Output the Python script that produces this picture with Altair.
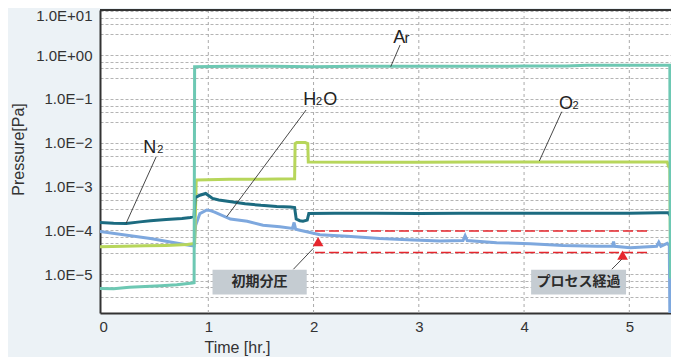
import altair as alt
import pandas as pd

# ---------------- data ----------------
# Ar
ar_t = [-0.03, 0.10, 0.25, 0.40, 0.55, 0.70, 0.85, 0.865, 0.870, 1.2, 1.6, 2.0, 2.4, 2.8, 3.2, 3.6, 4.0, 4.4, 4.6, 4.8, 5.2, 5.385, 5.39, 5.49]
ar_v = [4.7e-6, 4.6e-6, 5.0e-6, 5.2e-6, 5.4e-6, 5.7e-6, 6.2e-6, 6.3e-6, 0.54, 0.55, 0.55, 0.54, 0.55, 0.55, 0.55, 0.55, 0.56, 0.56, 0.58, 0.58, 0.58, 0.58, 8.5e-6, 8.5e-6]
# O2
o2_t = [-0.03, 0.2, 0.4, 0.6, 0.8, 0.87, 0.885, 0.89, 1.2, 1.5, 1.82, 1.825, 1.84, 1.92, 1.945, 1.95, 2.5, 3.0, 3.5, 4.0, 4.5, 5.0, 5.36, 5.375, 5.385, 5.39, 5.49]
o2_v = [4.2e-5, 4.3e-5, 4.4e-5, 4.5e-5, 4.7e-5, 5.0e-5, 1.3e-3, 1.4e-3, 1.45e-3, 1.45e-3, 1.5e-3, 9.5e-3, 1.0e-2, 1.0e-2, 9.5e-3, 3.6e-3, 3.55e-3, 3.55e-3, 3.6e-3, 3.6e-3, 3.6e-3, 3.6e-3, 3.6e-3, 2.8e-3, 2.8e-3, 6.6e-5, 6.6e-5]
# N2
n2_t = [-0.03, 0.1, 0.22, 0.35, 0.45, 0.6, 0.75, 0.83, 0.865, 0.875, 0.92, 0.975, 1.04, 1.1, 1.2, 1.35, 1.5, 1.65, 1.78, 1.82, 1.835, 1.87, 1.90, 1.94, 1.955, 2.2, 2.6, 3.0, 3.4, 3.8, 4.2, 4.6, 5.0, 5.3, 5.37, 5.385, 5.40, 5.49]
n2_v = [1.5e-4, 1.45e-4, 1.43e-4, 1.55e-4, 1.65e-4, 1.75e-4, 1.85e-4, 1.95e-4, 2.1e-4, 5.5e-4, 6.3e-4, 6.9e-4, 5.3e-4, 4.9e-4, 4.5e-4, 4.0e-4, 3.7e-4, 3.5e-4, 3.4e-4, 3.3e-4, 1.8e-4, 1.65e-4, 1.6e-4, 1.7e-4, 2.4e-4, 2.45e-4, 2.45e-4, 2.4e-4, 2.45e-4, 2.45e-4, 2.45e-4, 2.45e-4, 2.45e-4, 2.5e-4, 2.5e-4, 2.2e-4, 2.8e-4, 2.9e-4]
# H2O
h2o_t = [-0.03, 0.45, 0.83, 0.865, 0.88, 0.92, 0.985, 1.02, 1.06, 1.21, 1.37, 1.52, 1.68, 1.80, 1.815, 1.83, 1.87, 1.935, 2.06, 2.32, 2.63, 2.95, 3.2, 3.42, 3.44, 3.46, 3.74, 4.06, 4.37, 4.69, 4.84, 4.85, 4.86, 5.01, 5.26, 5.28, 5.30, 5.36, 5.38, 5.385, 5.395, 5.49]
h2o_v = [9.3e-5, 6.5e-5, 4.5e-5, 4.4e-5, 1.3e-4, 2.4e-4, 2.9e-4, 2.8e-4, 2.6e-4, 1.8e-4, 1.6e-4, 1.3e-4, 1.2e-4, 1.1e-4, 1.5e-4, 1.05e-4, 1.0e-4, 9.2e-5, 7.9e-5, 7.3e-5, 6.5e-5, 6.0e-5, 5.7e-5, 5.8e-5, 7.5e-5, 5.8e-5, 5.2e-5, 4.9e-5, 4.5e-5, 4.3e-5, 4.3e-5, 5.5e-5, 4.3e-5, 4.0e-5, 4.3e-5, 5.3e-5, 4.3e-5, 5.0e-5, 4.5e-5, 1.2e-6, 3.0e-5, 3.0e-5]

# reference levels (red dashed) and markers
ref_v = [9.6e-5, 3.1e-5]
ref_t1 = [2.014, 2.014]
ref_t2 = [5.18, 5.18]
tri_t = [2.043, 4.936]
tri_v = [5.5e-5, 2.7e-5]

# gas labels (big letters / small characters)
big_txt = ["N", "A", "H", "O", "O"]
big_t = [0.383, 2.758, 1.903, 2.093, 4.333]
big_v = [5.7e-3, 1.91, 0.0722, 0.0722, 0.0576]
sub_txt = ["2", "2", "2"]
sub_t = [0.516, 2.024, 4.459]
sub_v = [5.7e-3, 0.0722, 0.0576]
r_txt = ["r"]
r_t = [2.863]
r_v = [1.91]

# leader lines
lead_t1 = [0.504, 2.822, 1.929, 4.358, 1.808, 4.833]
lead_v1 = [4.7e-3, 1.69, 0.0555, 0.0507, 1.28e-5, 1.28e-5]
lead_t2 = [0.219, 2.733, 1.175, 4.145, 1.998, 4.928]
lead_v2 = [1.44e-4, 0.54, 2.03e-4, 3.8e-3, 3.86e-5, 2.17e-5]

# annotation boxes
box_txt = ["初期分圧", "プロセス経過"]
box_t1 = [1.04, 4.067]
box_t2 = [1.935, 4.969]
box_v1 = [1.25e-5, 1.25e-5]
box_v2 = [3.4e-6, 3.4e-6]
box_tc = [1.487, 4.518]
box_vc = [6.5e-6, 6.5e-6]

# axes
x_ticks = [0, 1, 2, 3, 4, 5]
x_grid = [1, 2, 3, 4, 5]
y_labels = ["1.0E+01", "1.0E+00", "1.0E\u22121", "1.0E\u22122", "1.0E\u22123", "1.0E\u22124", "1.0E\u22125"]

X_DOM = [-0.029, 5.396]
Y_DOM = [1.288e-6, 10.65]
W, H = 571, 303
y_grid = [float(f"{f}e{e}") for e in range(1, -7, -1) for f in (1, 7, 5, 3)]
y_grid = [v for v in y_grid if Y_DOM[0] <= v <= 10.0]

FONT = "Liberation Sans"
COL = {"Ar": "#6dc8b3", "O2": "#b7d65b", "N2": "#1c6b80", "H2O": "#7ea8de", "red": "#e6262d"}

lab_list = "[" + ",".join(f"'{s}'" for s in y_labels) + "]"
e_expr = "round(log(datum.value)/LN10)"
label_expr = f"abs(log(datum.value)/LN10 - {e_expr}) < 0.01 ? {lab_list}[1 - {e_expr}] : ''"

xscale = alt.Scale(domain=X_DOM, nice=False, zero=False)
yscale = alt.Scale(type="log", domain=Y_DOM, nice=False)

xaxis = alt.Axis(values=x_ticks, grid=False, ticks=False, tickSize=0, domainColor="#333333", domainWidth=2,
                 labelFont=FONT, labelFontSize=15, labelColor="#333333", labelPadding=6, labelFlush=False,
                 title="Time [hr.]", titleFont=FONT, titleFontSize=16, titleFontWeight="normal",
                 titleColor="#333333", titleX=137, titleY=39, titleAlign="center", titleBaseline="alphabetic")
yaxis = alt.Axis(values=y_grid, labelExpr=label_expr, grid=True, gridColor="#b4b4b4", gridDash=[3, 2],
                 gridWidth=1, ticks=False, tickSize=0, domainColor="#333333", domainWidth=2,
                 labelFont=FONT, labelFontSize=15, labelColor="#333333", labelPadding=8,
                 labelOverlap=False, labelFlush=False,
                 labelOffset={"condition": {"test": "datum.value >= 10", "value": 4}, "value": 0},
                 title="Pressure[Pa]", titleFont=FONT, titleFontSize=16, titleFontWeight="normal",
                 titleColor="#333333", titleX=-77, titleY=139, titleAngle=-90, titleAlign="center",
                 titleBaseline="alphabetic")


def X(f="t"):
    return alt.X(f"{f}:Q", scale=xscale, axis=xaxis)


def Y(f="v"):
    return alt.Y(f"{f}:Q", scale=yscale, axis=yaxis)


def series(t, v, color, width=3):
    df = pd.DataFrame({"t": t, "v": v, "i": range(len(t))})
    return alt.Chart(df).mark_line(color=color, strokeWidth=width, clip=True).encode(
        x=X(), y=Y(), order="i:Q")


grid_x = alt.Chart(pd.DataFrame({"t": x_grid})).mark_rule(
    color="#aaaaaa", strokeDash=[3, 3], strokeWidth=1).encode(x=X())

ref_df = pd.DataFrame({"t": ref_t1, "t2": ref_t2, "v": ref_v})
ref_lines = alt.Chart(ref_df).mark_rule(color=COL["red"], strokeDash=[10, 4], strokeWidth=1.6).encode(
    x=X(), x2="t2:Q", y=Y())

tri = alt.Chart(pd.DataFrame({"t": tri_t, "v": tri_v})).mark_point(
    shape="triangle-up", filled=True, opacity=1, color=COL["red"], size=115).encode(x=X(), y=Y())

lead_df = pd.DataFrame({"t": lead_t1, "v": lead_v1, "t2": lead_t2, "v2": lead_v2})
leaders = alt.Chart(lead_df).mark_rule(color="#333333", strokeWidth=0.9).encode(
    x=X(), y=Y(), x2="t2:Q", y2="v2:Q")

box_df = pd.DataFrame({"t": box_t1, "t2": box_t2, "v": box_v1, "v2": box_v2, "tc": box_tc, "vc": box_vc, "txt": box_txt})
boxes = alt.Chart(box_df).mark_rect(color="#c5ccd2").encode(x=X(), x2="t2:Q", y=Y(), y2="v2:Q")
box_text = alt.Chart(box_df).mark_text(font="Noto Sans CJK JP", fontSize=14, fontWeight="bold",
                                        color="#2b2b2b", align="center", baseline="middle").encode(
    x=X("tc"), y=Y("vc"), text="txt:N")

big = alt.Chart(pd.DataFrame({"t": big_t, "v": big_v, "txt": big_txt})).mark_text(
    font=FONT, fontSize=18, color="#222222", align="left", baseline="alphabetic").encode(
    x=X(), y=Y(), text="txt:N")
sub = alt.Chart(pd.DataFrame({"t": sub_t, "v": sub_v, "txt": sub_txt})).mark_text(
    font=FONT, fontSize=11, color="#222222", align="left", baseline="alphabetic").encode(
    x=X(), y=Y(), text="txt:N")
rr = alt.Chart(pd.DataFrame({"t": r_t, "v": r_v, "txt": r_txt})).mark_text(
    font=FONT, fontSize=15, color="#222222", align="left", baseline="alphabetic").encode(
    x=X(), y=Y(), text="txt:N")

top_line = alt.Chart(pd.DataFrame({"a": [0]})).mark_rule(color="#333333", strokeWidth=2).encode(
    x=alt.value(0), x2=alt.value(W), y=alt.value(0))

chart = alt.layer(
    grid_x,
    ref_lines,
    series(h2o_t, h2o_v, COL["H2O"]),
    series(o2_t, o2_v, COL["O2"]),
    series(n2_t, n2_v, COL["N2"]),
    series(ar_t, ar_v, COL["Ar"]),
    tri,
    leaders,
    boxes,
    box_text,
    big,
    sub,
    rr,
    top_line,
).properties(
    width=W,
    height=H,
    autosize=alt.AutoSizeParams(type="none"),
    padding={"left": 92, "top": 2, "right": 0, "bottom": 44},
    background="#ecf2f6",
).configure_view(stroke="transparent", fill="white")

chart.save("out.html", embed_options={"renderer": "svg", "actions": False})
